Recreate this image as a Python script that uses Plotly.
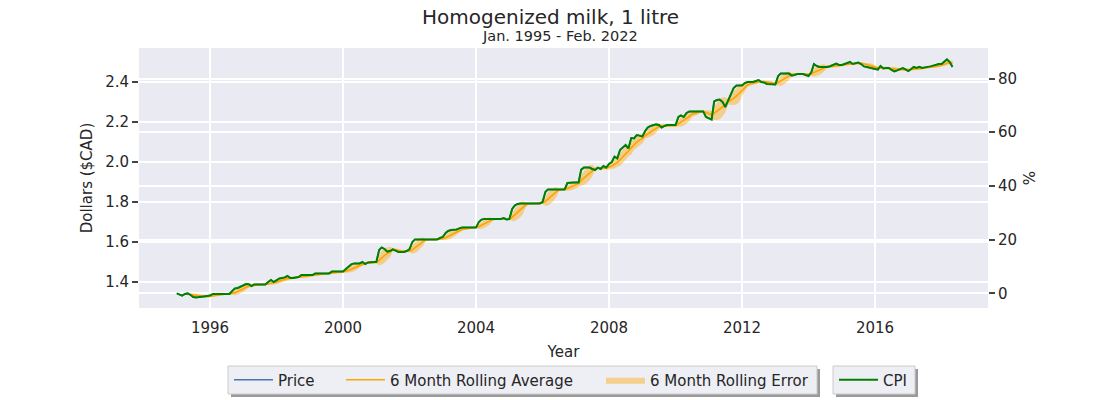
import pandas as pd
import plotly.graph_objects as go

title = "Homogenized milk, 1 litre"
subtitle = "Jan. 1995 - Feb. 2022"
start_month = "1995-01-01"

# Monthly price ($CAD), one row per year
price_1995 = [1.343, 1.335, 1.332, 1.34, 1.343, 1.335, 1.325, 1.322, 1.325, 1.327, 1.33, 1.33]
price_1996 = [1.332, 1.34, 1.34, 1.34, 1.34, 1.34, 1.34, 1.34, 1.355, 1.368, 1.37, 1.377]
price_1997 = [1.385, 1.39, 1.389, 1.38, 1.388, 1.388, 1.388, 1.388, 1.388, 1.40, 1.41, 1.40]
price_1998 = [1.41, 1.418, 1.42, 1.423, 1.43, 1.42, 1.42, 1.422, 1.425, 1.435, 1.435, 1.435]
price_1999 = [1.435, 1.435, 1.443, 1.443, 1.443, 1.443, 1.443, 1.443, 1.452, 1.452, 1.452, 1.452]
price_2000 = [1.452, 1.465, 1.477, 1.488, 1.493, 1.493, 1.493, 1.50, 1.49, 1.498, 1.50, 1.50]
price_2001 = [1.50, 1.56, 1.573, 1.565, 1.552, 1.555, 1.563, 1.558, 1.55, 1.55, 1.55, 1.555]
price_2002 = [1.565, 1.60, 1.613, 1.613, 1.613, 1.613, 1.613, 1.613, 1.613, 1.613, 1.613, 1.62]
price_2003 = [1.625, 1.645, 1.655, 1.66, 1.66, 1.663, 1.668, 1.672, 1.672, 1.672, 1.672, 1.672]
price_2004 = [1.672, 1.70, 1.712, 1.715, 1.715, 1.715, 1.715, 1.715, 1.715, 1.715, 1.72, 1.713]
price_2005 = [1.715, 1.765, 1.782, 1.79, 1.793, 1.793, 1.793, 1.793, 1.793, 1.793, 1.793, 1.793]
price_2006 = [1.80, 1.85, 1.863, 1.863, 1.863, 1.863, 1.863, 1.863, 1.863, 1.895, 1.898, 1.898]
price_2007 = [1.898, 1.898, 1.962, 1.972, 1.972, 1.972, 1.965, 1.96, 1.972, 1.965, 1.98, 1.972]
price_2008 = [1.99, 2.0, 2.027, 2.018, 2.06, 2.072, 2.085, 2.068, 2.12, 2.118, 2.135, 2.132]
price_2009 = [2.127, 2.155, 2.172, 2.18, 2.185, 2.188, 2.185, 2.172, 2.18, 2.185, 2.185, 2.185]
price_2010 = [2.185, 2.225, 2.233, 2.225, 2.245, 2.253, 2.253, 2.253, 2.253, 2.253, 2.253, 2.225]
price_2011 = [2.218, 2.212, 2.303, 2.31, 2.312, 2.30, 2.275, 2.31, 2.342, 2.37, 2.383, 2.383]
price_2012 = [2.383, 2.395, 2.40, 2.40, 2.40, 2.405, 2.41, 2.40, 2.397, 2.39, 2.39, 2.388]
price_2013 = [2.388, 2.43, 2.442, 2.442, 2.442, 2.442, 2.432, 2.438, 2.44, 2.44, 2.44, 2.435]
price_2014 = [2.43, 2.45, 2.49, 2.48, 2.475, 2.475, 2.475, 2.475, 2.48, 2.485, 2.492, 2.485]
price_2015 = [2.485, 2.49, 2.495, 2.50, 2.49, 2.492, 2.497, 2.49, 2.478, 2.475, 2.472, 2.47]
price_2016 = [2.467, 2.462, 2.48, 2.468, 2.47, 2.47, 2.46, 2.453, 2.458, 2.465, 2.47, 2.463]
price_2017 = [2.455, 2.465, 2.475, 2.47, 2.476, 2.47, 2.472, 2.475, 2.478, 2.482, 2.488, 2.49]
price_2018 = [2.49, 2.50, 2.513, 2.50, 2.475]

price = (price_1995 + price_1996 + price_1997 + price_1998 + price_1999 + price_2000
         + price_2001 + price_2002 + price_2003 + price_2004 + price_2005 + price_2006
         + price_2007 + price_2008 + price_2009 + price_2010 + price_2011 + price_2012
         + price_2013 + price_2014 + price_2015 + price_2016 + price_2017 + price_2018)

year_ticks = ["1996", "2000", "2004", "2008", "2012", "2016"]
left_ticks = [1.4, 1.6, 1.8, 2.0, 2.2, 2.4]
right_ticks = [0, 20, 40, 60, 80]

dates = pd.date_range(start_month, periods=len(price), freq="MS")
s = pd.Series(price, index=dates)
roll_mean = s.rolling(6).mean()
roll_std = s.rolling(6).std()
lower = roll_mean - roll_std
upper = roll_mean + roll_std
base = price[0]
cpi = [(p / base - 1) * 100 for p in price]

left_range = [1.27, 2.57]
right_range = [(v / base - 1) * 100 for v in left_range]

FONT = "DejaVu Sans"
TXT = "#262626"
BG = "#eaeaf2"

# plot-area pixel geometry
PL, PR, PT, PB = 139, 988, 48, 308
W, H = 1100, 400


def px_x(p):
    return (p - PL) / (PR - PL)


def px_y(p):
    return (PB - p) / (PB - PT)


fig = go.Figure()
fig.add_trace(go.Scatter(x=dates, y=lower, mode="lines", line=dict(width=0, color="rgba(0,0,0,0)"),
                         showlegend=False, hoverinfo="skip", legend="legend3"))
fig.add_trace(go.Scatter(x=dates, y=upper, mode="lines", line=dict(width=0, color="rgba(0,0,0,0)"),
                         fill="tonexty", fillcolor="rgba(255,165,0,0.42)",
                         name="6 Month Rolling Error", legend="legend3"))
fig.add_trace(go.Scatter(x=dates, y=price, mode="lines", line=dict(color="#4c72b0", width=1.5),
                         name="Price", legend="legend"))
fig.add_trace(go.Scatter(x=dates, y=roll_mean, mode="lines", line=dict(color="orange", width=1.7),
                         name="6 Month Rolling Average", legend="legend2"))
fig.add_trace(go.Scatter(x=dates, y=cpi, mode="lines", line=dict(color="green", width=2),
                         name="CPI", yaxis="y2", legend="legend4"))

LEG_Y = px_y(380)


def leg(xpix):
    return dict(orientation="h", x=px_x(xpix), y=LEG_Y, xanchor="left", yanchor="middle",
                bgcolor="rgba(0,0,0,0)", borderwidth=0, itemwidth=39,
                font=dict(size=15, color=TXT))


# legend frames (box + drop shadow) drawn as shapes behind the legends
shapes = []
for (x0, x1) in [(228, 817), (833, 915)]:
    shapes.append(dict(type="rect", xref="paper", yref="paper", layer="above",
                       x0=px_x(x0 + 3), x1=px_x(x1 + 3), y0=px_y(394 + 3), y1=px_y(366 + 3),
                       fillcolor="#9a9a9a", line=dict(width=0)))
    shapes.append(dict(type="rect", xref="paper", yref="paper", layer="above",
                       x0=px_x(x0), x1=px_x(x1), y0=px_y(394), y1=px_y(366),
                       fillcolor="#eeeef5", line=dict(width=1, color="#cccccc")))

fig.update_layout(
    width=W, height=H,
    margin=dict(l=PL, r=W - PR, t=PT, b=H - PB, autoexpand=False),
    paper_bgcolor="white", plot_bgcolor=BG,
    font=dict(family=FONT, size=15, color=TXT),
    xaxis=dict(
        type="date", range=["1993-11-12", "2019-05-26"],
        tickvals=[f"{y}-01-01" for y in year_ticks], ticktext=year_ticks,
        showgrid=True, gridcolor="white", gridwidth=1.5, zeroline=False, showline=False,
        title=dict(text="Year", font=dict(size=15), standoff=10),
        ticks="outside", ticklen=6, tickcolor="rgba(0,0,0,0)", tickfont=dict(size=15),
    ),
    yaxis=dict(
        range=left_range, tickvals=left_ticks, ticktext=[f"{v:.1f}" for v in left_ticks],
        showgrid=True, gridcolor="white", gridwidth=1.5, zeroline=False, showline=False,
        ticks="outside", ticklen=6, tickwidth=1.5, tickcolor="#444", tickfont=dict(size=15),
        title=dict(text="Dollars ($CAD)", font=dict(size=15), standoff=8),
    ),
    yaxis2=dict(
        overlaying="y", side="right", range=right_range, tickvals=right_ticks,
        showgrid=True, gridcolor="white", gridwidth=1.5, zeroline=False, showline=False,
        ticks="outside", ticklen=6, tickwidth=1.5, tickcolor="#444", tickfont=dict(size=15),
        title=dict(text="%", font=dict(size=15), standoff=8),
    ),
    legend=leg(229),
    legend2=leg(341),
    legend3=leg(601),
    legend4=leg(834),
    showlegend=True,
    shapes=shapes,
    annotations=[
        dict(text=title, x=px_x(550), y=px_y(17), xref="paper", yref="paper", showarrow=False,
             yanchor="middle", font=dict(size=20, color=TXT)),
        dict(text=subtitle, x=px_x(560), y=px_y(36), xref="paper", yref="paper", showarrow=False,
             yanchor="middle", font=dict(size=14.5, color=TXT)),
    ],
)

fig.write_html("out.html", config={"displayModeBar": False},
               post_script="document.body.style.margin='0';document.body.style.padding='0';")
